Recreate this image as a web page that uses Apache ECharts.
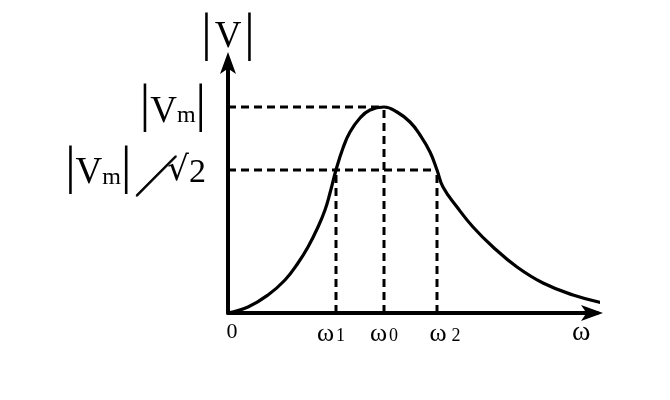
<!DOCTYPE html>
<html><head><meta charset="utf-8">
<script src="https://cdn.jsdelivr.net/npm/echarts@6/dist/echarts.min.js"></script>
<style>html,body{margin:0;padding:0;background:#fff}#c{width:670px;height:400px}</style>
</head><body><div id="c"></div>
<script>
// ---- data ----
const curveX = [0,20,40,57,70,80,90,97,102,108,115,122,132,142,156,169,182,192,202,209,215,229,245,265,289,315,345,375];
const curveY = [0,6,18,33,50,66,86,103,120,143,165,181,195,203,206,201,191,178,161,143,126,106,86,66,46,30,18,10];
const markX = [108,156,209];          // ω1, ω0, ω2
const peakY = 206;                    // |Vm|
const halfY = 143;                    // |Vm|/√2
const xTickValues = [0,108,156,209];
const xTickLabels = ['0','ω1','ω0','ω2'];
const yTickValues = [143,206];
const yTickLabels = ['|Vm| ╱√2','|Vm|'];
const xName = 'ω';
const yName = '|V|';
const xMax = 369, yMax = 252;

// ---- styles ----
const serif = 'Liberation Serif';
const charStyle = { '|':'bar', 'V':'V', 'm':'m', ' ':'gap', '╱':'sl', '√':'rt', '2':'two' };
function toRich(t, sfx){
  let s = '';
  for (const ch of t){ s += '{' + (charStyle[ch]||'V') + sfx + '|' + ch + '}'; }
  return s;
}
const yRich = {
  // label at |Vm|
  bara:{fontFamily:serif,fontSize:52,color:'#000',padding:[0,0,0,0]},
  Va:{fontFamily:serif,fontSize:37,color:'#000',padding:[10,0,0,0]},
  ma:{fontFamily:serif,fontSize:24,color:'#000',padding:[18,0,0,0]},
  // label at |Vm|/√2
  barb:{fontFamily:serif,fontSize:52,color:'#000',padding:[0,0,1,0]},
  Vb:{fontFamily:serif,fontSize:37,color:'#000',padding:[7,0,0,0]},
  mb:{fontFamily:serif,fontSize:24,color:'#000',padding:[15,0,0,0]},
  gapb:{fontFamily:serif,fontSize:20,color:'#000',width:14},
  slb:{fontFamily:'Noto Sans CJK JP',fontSize:40,color:'#000',width:22,align:'center',padding:[12,0,0,0],
       textBorderColor:'#000',textBorderWidth:0.8},
  rtb:{fontFamily:'DejaVu Serif',fontSize:34,color:'#000',padding:[2,0,0,0]},
  twob:{fontFamily:serif,fontSize:34,color:'#000',padding:[7,0,0,0]},
  // axis name |V|
  barn:{fontFamily:serif,fontSize:52,color:'#000',padding:[3,0,0,0]},
  Vn:{fontFamily:serif,fontSize:37,color:'#000',padding:[4,3,0,3]}
};
const xRich = {
  z:{fontFamily:serif,fontSize:22,color:'#000',padding:[0,0,0,8]},
  w:{fontFamily:serif,fontSize:26,color:'#000'},
  w3:{fontFamily:serif,fontSize:26,color:'#000',padding:[0,0,0,16]},
  d1:{fontFamily:serif,fontSize:18,color:'#000',padding:[5,10,0,2]},
  d2:{fontFamily:serif,fontSize:18,color:'#000',padding:[5,0,0,2]},
  d3:{fontFamily:serif,fontSize:18,color:'#000',padding:[5,0,0,5]}
};
function xFmt(v){
  const i = xTickValues.indexOf(v);
  if (i < 0) return '';
  const t = xTickLabels[i];
  if (t.length === 1) return '{z|' + t + '}';
  return '{' + (i === 3 ? 'w3' : 'w') + '|' + t[0] + '}{d' + i + '|' + t.slice(1) + '}';
}
function yFmt(v){
  const i = yTickValues.indexOf(v);
  if (i < 0) return '';
  return toRich(yTickLabels[i], v === peakY ? 'a' : 'b');
}
function nameRich(t){
  return '{barn|' + t[0] + '}{Vn|' + t[1] + '}{barn|' + t[2] + '}';
}

const dash = {type:'line',symbol:'none',silent:true,z:1,
  lineStyle:{color:'#000',width:3,type:[8,5]}};
const dashed = [
  [[0,peakY],[markX[1],peakY]],
  [[0,halfY],[markX[2],halfY]],
  [[markX[0],0],[markX[0],halfY]],
  [[markX[1],0],[markX[1],peakY]],
  [[markX[2],0],[markX[2],halfY]]
].map(d => Object.assign({}, dash, {data:d}));

function axisLineStyle(off){
  return {show:true,symbol:['none','arrow'],symbolSize:[12,22],symbolOffset:[0,off],
    lineStyle:{color:'#000',width:4}};
}

const chart = echarts.init(document.getElementById('c'), null, {renderer:'canvas'});
chart.setOption({
  animation:false,
  backgroundColor:'#fff',
  grid:{left:228,right:73,top:61,bottom:87,containLabel:false},
  xAxis:{type:'value',min:0,max:xMax,
    axisLine:axisLineStyle(6),axisTick:{show:false},splitLine:{show:false},
    axisLabel:{customValues:xTickValues,formatter:xFmt,rich:xRich,margin:8,hideOverlap:false},
    name:xName,nameLocation:'end',nameGap:-25,nameMoveOverlap:false,
    nameTextStyle:{fontFamily:serif,fontSize:28,color:'#000',verticalAlign:'top',padding:[6,0,0,0]}},
  yAxis:{type:'value',min:0,max:yMax,
    axisLine:axisLineStyle(9),axisTick:{show:false},splitLine:{show:false},
    axisLabel:{customValues:yTickValues,formatter:yFmt,rich:yRich,margin:22,hideOverlap:false},
    name:nameRich(yName),nameLocation:'end',nameGap:26,nameMoveOverlap:false,
    nameTextStyle:{rich:yRich,verticalAlign:'middle',align:'center'}},
  series:[
    ...dashed,
    {type:'line',symbol:'none',smooth:0.45,clip:false,z:3,
     lineStyle:{color:'#000',width:3.2},
     data:curveX.map((x,i)=>[x,curveY[i]])}
  ]
});
</script></body></html>
